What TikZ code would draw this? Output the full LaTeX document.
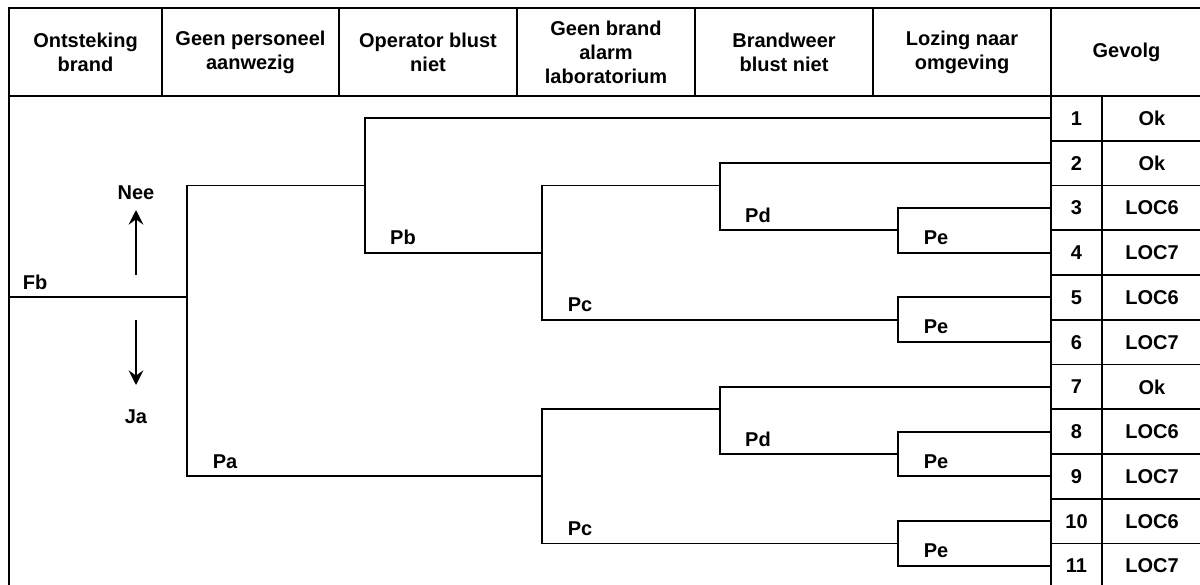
\documentclass[tikz,border=0pt]{standalone}
\usepackage{fontspec}
\setmainfont{Liberation Sans}
\usetikzlibrary{arrows.meta,positioning,calc}
\tikzset{
  frm/.style={line width=1.4pt},
  br/.style={line width=1.4pt, line join=miter},
  hdr/.style={font=\bfseries\fontsize{15}{18}\selectfont, align=center, inner sep=0pt},
  lbl/.style={font=\bfseries\fontsize{15}{18}\selectfont, inner sep=0pt},
  cell/.style={font=\bfseries\fontsize{15}{18}\selectfont, inner sep=0pt},
  arr/.style={-{Stealth[length=11pt,width=11pt,inset=4pt]}, line width=1.4pt},
}
\newcommand{\rowY}[1]{96+(#1-0.5)*44.75}
\newcommand{\rowB}[1]{96+(#1)*44.75}

\begin{document}
\begin{tikzpicture}[x=0.75pt,y=-0.75pt]
  \useasboundingbox (0,0) rectangle (1200,585);
  \draw[frm] (9,585) -- (9,8) -- (1202,8);
  \draw[frm] (9,96) -- (1202,96);
  \foreach \xx in {162,339,517,695,873} \draw[frm] (\xx,8) -- (\xx,96);
  \draw[frm] (1051,8) -- (1051,585);
  \draw[frm] (1102,96) -- (1102,585);
  \foreach \k in {1,...,10} \draw[frm] (1051,{\rowB{\k}}) -- (1202,{\rowB{\k}});
  \node[hdr] (h1) at (85.5,52) {Ontsteking\\brand};
  \node[hdr] (h2) at (250.5,52) {Geen personeel\\aanwezig};
  \node[hdr] (h3) at (428,52) {Operator blust\\niet};
  \node[hdr] (h4) at (606,52) {Geen brand\\alarm\\laboratorium};
  \node[hdr] (h5) at (784,52) {Brandweer\\blust niet};
  \node[hdr] (h6) at (962,52) {Lozing naar\\omgeving};
  \node[hdr] (h7) at (1126.5,52) {Gevolg};
  \foreach \i/\res in {1/Ok,2/Ok,3/LOC6,4/LOC7,5/LOC6,6/LOC7,7/Ok,8/LOC6,9/LOC7,10/LOC6,11/LOC7}{
    \node[cell] (n\i) at (1076.5,{\rowY{\i}}) {\i};
    \node[cell] (r\i) at (1152,{\rowY{\i}}) {\res};
    \coordinate (o\i) at (1051,{\rowY{\i}});
  }
  \coordinate (st) at (9,{\rowY{5}});
  \coordinate (sA) at (187,{\rowY{5}});
  \coordinate (sB) at (365,{\rowB{2}});
  \coordinate (sC) at (542,{\rowY{9}});
  \coordinate (sD) at (542,{\rowY{4}});
  \coordinate (sE) at (720,{\rowB{2}});
  \coordinate (sF) at (898,{\rowB{5}});
  \coordinate (sG) at (898,{\rowB{3}});
  \coordinate (sH) at (720,{\rowB{7}});
  \coordinate (sI) at (898,{\rowB{10}});
  \coordinate (sJ) at (898,{\rowB{8}});
  \draw[br] (st) -- (sA);
  \draw[br] (sB) -| (sA) |- (sC);
  \draw[br] (o1) -| (sB) |- (sD);
  \draw[br] (sE) -| (sD) |- (sF);
  \draw[br] (o2) -| (sE) |- (sG);
  \draw[br] (o3) -| (sG) |- (o4);
  \draw[br] (o5) -| (sF) |- (o6);
  \draw[br] (sH) -| (sC) |- (sI);
  \draw[br] (o7) -| (sH) |- (sJ);
  \draw[br] (o8) -| (sJ) |- (o9);
  \draw[br] (o10) -| (sI) |- (o11);
  \node[lbl] (fb) at ($(st)+(26,-15)$) {Fb};
  \node[lbl] (pa) at ($(sC -| sA)+(38,-15)$) {Pa};
  \node[lbl] (pb) at ($(sD -| sB)+(38,-15)$) {Pb};
  \node[lbl] (pc1) at ($(sF -| sD)+(38,-15)$) {Pc};
  \node[lbl] (pd1) at ($(sG -| sE)+(38,-15)$) {Pd};
  \node[lbl] (pe1) at ($(o4 -| sG)+(38,-15)$) {Pe};
  \node[lbl] (pe2) at ($(o6 -| sF)+(38,-15)$) {Pe};
  \node[lbl] (pc2) at ($(sI -| sC)+(38,-15)$) {Pc};
  \node[lbl] (pd2) at ($(sJ -| sH)+(38,-15)$) {Pd};
  \node[lbl] (pe3) at ($(o9 -| sJ)+(38,-15)$) {Pe};
  \node[lbl] (pe4) at ($(o11 -| sI)+(38,-15)$) {Pe};
  \node[lbl] (nee) at (136,193) {Nee};
  \node[lbl] (ja) at (136,417) {Ja};
  \coordinate (neeT) at (136,210);
  \coordinate (neeB) at (136,275);
  \coordinate (jaT) at (136,320);
  \coordinate (jaB) at (136,385);
  \draw[arr] (neeB) -- (neeT);
  \draw[arr] (jaT) -- (jaB);
\end{tikzpicture}
\end{document}
